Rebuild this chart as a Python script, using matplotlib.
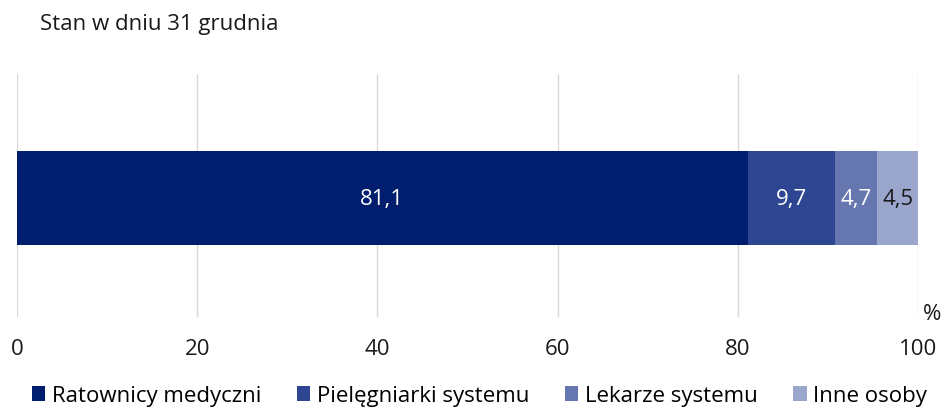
import matplotlib.pyplot as plt

plt.rcParams['font.family'] = ['Open Sans', 'DejaVu Sans']

categories = ["Ratownicy medyczni", "Pielęgniarki systemu", "Lekarze systemu", "Inne osoby"]
values = [81.1, 9.7, 4.7, 4.5]
colors = ["#001d6e", "#2e4591", "#6577ae", "#9aa6cc"]
label_colors = ["white", "white", "white", "#1a1a1a"]
ticks = [0, 20, 40, 60, 80, 100]

fs = 16

fig = plt.figure(figsize=(9.44, 4.10), dpi=100)
ax = fig.add_axes([0.018, 0.224, 0.9545, 0.593])

left = 0
for cat, v, c, lc in zip(categories, values, colors, label_colors):
    ax.barh(0, v, left=left, height=0.383, color=c, label=cat, zorder=2)
    ax.text(left + v / 2, 0, ("%.1f" % v).replace(".", ","), ha="center", va="center",
            color=lc, fontsize=fs, zorder=3)
    left += v

ax.set_xlim(0, 100)
ax.set_ylim(-0.49, 0.51)
ax.set_xticks(ticks)
ax.set_xticklabels([str(t) for t in ticks], fontsize=fs, color="#1a1a1a")
ax.tick_params(axis="x", length=0, pad=15)
ax.set_yticks([])
ax.grid(axis="x", color="#d9d9d9", linewidth=1, zorder=0)
for s in ax.spines.values():
    s.set_visible(False)

fig.text(0.997, 0.232, "%", fontsize=fs, ha="right", va="center", color="#1a1a1a")
fig.text(0.042, 0.94, "Stan w dniu 31 grudnia", fontsize=fs, ha="left", va="center", color="#1a1a1a")

fig.legend(loc="center", bbox_to_anchor=(0.508, 0.032), ncol=4, frameon=False,
           fontsize=fs, handlelength=0.6, handleheight=0.6, handletextpad=0.3,
           columnspacing=1.6, borderaxespad=0)

fig.savefig("out.png", dpi=100)
